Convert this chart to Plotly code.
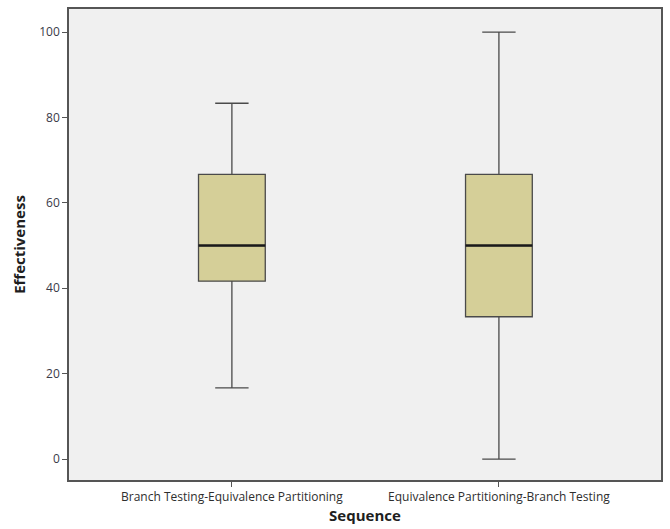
import plotly.graph_objects as go

# Summary statistics per sequence group
sequences = ["Branch Testing-Equivalence Partitioning",
             "Equivalence Partitioning-Branch Testing"]
positions = [0, 1]
lower_whisker = [16.67, 0.0]
q1_values = [41.67, 33.33]
medians = [50.0, 50.0]
q3_values = [66.67, 66.67]
upper_whisker = [83.33, 100.0]

y_ticks = [0, 20, 40, 60, 80, 100]

box_fill = "#d5cf98"
edge = "#4a4a4a"
box_half = 0.125

fig = go.Figure()

fig.add_trace(go.Box(
    x=positions,
    q1=q1_values,
    median=medians,
    q3=q3_values,
    lowerfence=lower_whisker,
    upperfence=upper_whisker,
    width=2 * box_half,
    whiskerwidth=0.5,
    fillcolor=box_fill,
    line=dict(color=edge, width=1.3),
    boxpoints=False,
    hoverinfo="skip",
    showlegend=False,
))

# Heavier median bars
for xp, med in zip(positions, medians):
    fig.add_trace(go.Scatter(
        x=[xp - box_half, xp + box_half],
        y=[med, med],
        mode="lines",
        line=dict(color="#1a1a1a", width=2.4),
        hoverinfo="skip",
        showlegend=False,
    ))

fig.update_layout(
    width=670,
    height=529,
    margin=dict(l=69, r=7, t=9, b=48),
    paper_bgcolor="white",
    plot_bgcolor="#f0f0f0",
    font=dict(family="Open Sans, DejaVu Sans, sans-serif", color="#333333"),
    xaxis=dict(
        tickmode="array",
        tickvals=positions,
        ticktext=sequences,
        range=[-0.61, 1.607],
        showgrid=False,
        zeroline=False,
        showline=True,
        linecolor="#555555",
        linewidth=1.5,
        mirror=True,
        ticks="outside",
        ticklen=5,
        tickcolor="#555555",
        tickfont=dict(size=12, color="#2e2e2e"),
        title=dict(text="<b>Sequence</b>", font=dict(size=15, color="#1e1e1e"),
                   standoff=6),
    ),
    yaxis=dict(
        tickmode="array",
        tickvals=y_ticks,
        range=[-4.9, 105.4],
        showgrid=False,
        zeroline=False,
        showline=True,
        linecolor="#555555",
        linewidth=1.5,
        mirror=True,
        ticks="outside",
        ticklen=5,
        tickcolor="#555555",
        tickfont=dict(size=12, color="#3a3a48"),
        title=dict(text="<b>Effectiveness</b>", font=dict(size=15, color="#1e1e1e"),
                   standoff=10),
    ),
)

fig.write_html("out.html")
